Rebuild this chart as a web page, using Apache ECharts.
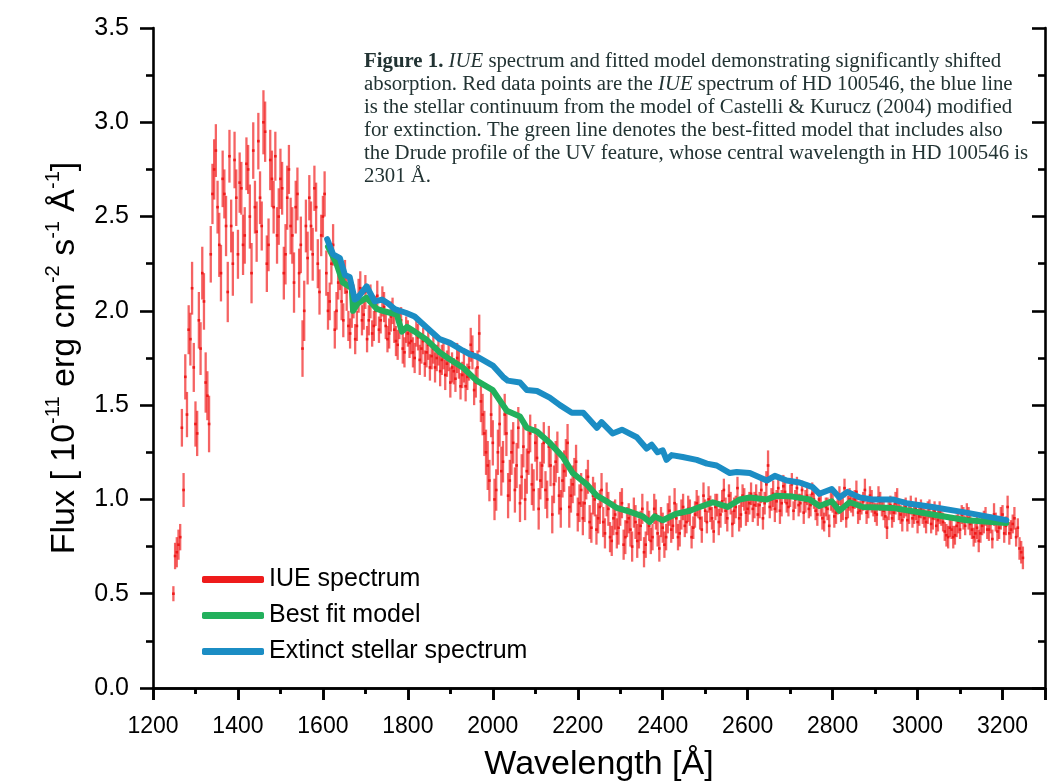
<!DOCTYPE html>
<html>
<head>
<meta charset="utf-8">
<script src="https://cdn.jsdelivr.net/npm/echarts@6/dist/echarts.min.js"></script>
<style>
  html, body { margin: 0; padding: 0; background: #fff; }
  #chart { width: 1048px; height: 784px; }
</style>
</head>
<body>
<div id="chart"></div>
<script>
// IUE spectrum of HD 100546: wavelength [A], flux, 1-sigma error (first half of the samples)
const iueWave = [
  1248, 1256, 1264, 1272, 1280, 1288, 1296, 1304, 1312, 1320,
  1328, 1336, 1344, 1352, 1360, 1368, 1376, 1384, 1392, 1400,
  1408, 1416, 1424, 1432, 1440, 1448, 1456, 1464, 1472, 1480,
  1488, 1496, 1504, 1512, 1520, 1528, 1536, 1544, 1552, 1560,
  1568, 1576, 1584, 1592, 1600, 1608, 1616, 1624, 1632, 1640,
  1648, 1656, 1664, 1672, 1680, 1688, 1696, 1704, 1712, 1720,
  1728, 1736, 1744, 1752, 1760, 1768, 1776, 1784, 1792, 1800,
  1808, 1816, 1824, 1832, 1840, 1848, 1856, 1864, 1872, 1880,
  1888, 1896, 1904, 1912, 1920, 1928, 1936, 1944, 1952, 1960,
  1968, 1976, 1984, 1992, 2000, 2008, 2016, 2024, 2032, 2040,
  2048, 2056, 2064, 2072, 2080, 2088, 2096, 2104, 2112, 2120,
  2128, 2136, 2144, 2152, 2160, 2168, 2176, 2184, 2192, 2200,
  2208, 2216, 2224, 2232, 2240, 2248, 2256, 2264, 2272, 2280,
  2288, 2296, 2304, 2312, 2320, 2328, 2336, 2344, 2352, 2360,
  2368, 2376, 2384, 2392, 2400, 2408, 2416, 2424, 2432, 2440,
  2448, 2456, 2464, 2472, 2480, 2488, 2496, 2504, 2512, 2520,
  2528, 2536, 2544, 2552, 2560, 2568, 2576, 2584, 2592, 2600,
  2608, 2616, 2624, 2632, 2640, 2648, 2656, 2664, 2672, 2680,
  2688, 2696, 2704, 2712, 2720, 2728, 2736, 2744, 2752, 2760,
  2768, 2776, 2784, 2792, 2800, 2808, 2816, 2824, 2832, 2840,
  2848, 2856, 2864, 2872, 2880, 2888, 2896, 2904, 2912, 2920,
  2928, 2936, 2944, 2952, 2960, 2968, 2976, 2984, 2992, 3000,
  3008, 3016, 3024, 3032, 3040, 3048, 3056, 3064, 3072, 3080,
  3088, 3096, 3104, 3112, 3120, 3128, 3136, 3144, 3152, 3160,
  3168, 3176, 3184, 3192, 3200, 3208, 3216, 3224, 3232, 3240,
  3248
];
const iueFlux = [
  0.50, 0.72, 0.80, 1.05, 1.45, 1.85, 1.70, 1.35, 1.80, 2.05,
  1.55, 2.30, 2.75, 2.55, 2.20, 2.62, 2.10, 2.45, 2.80, 2.30,
  2.65, 2.40, 2.75, 2.20, 2.55, 2.90, 2.45, 2.95, 2.35, 2.70,
  2.82, 2.50, 2.65, 2.30, 2.75, 2.40, 2.55, 2.20, 1.80, 2.45,
  2.60, 2.30, 2.55, 2.10, 2.50, 2.20, 2.05, 2.35, 2.00, 2.20,
  1.95, 2.10, 1.88, 2.05, 1.92, 2.12, 1.98, 1.85, 2.05, 1.92,
  2.08, 1.95, 2.02, 1.85, 1.97, 1.90, 1.82, 1.95, 1.78, 1.88,
  1.84, 1.75, 1.86, 1.80, 1.72, 1.82, 1.76, 1.70, 1.78, 1.74,
  1.66, 1.75, 1.70, 1.64, 1.72, 1.66, 1.60, 1.70, 1.78, 1.62,
  1.88, 1.45, 1.25, 1.10, 1.30, 1.05, 1.40, 1.20, 1.35, 1.10,
  1.30, 1.18, 0.98, 1.28, 1.15, 1.35, 1.05, 1.22, 1.10, 1.30,
  1.00, 1.18, 1.08, 1.25, 0.95, 1.15, 1.30, 1.02, 1.12, 0.92,
  1.05, 0.98, 1.12, 0.85, 1.00, 0.90, 1.05, 0.82, 0.95, 0.78,
  0.92, 0.85, 0.98, 0.80, 0.90, 0.75, 0.88, 0.82, 0.95, 0.76,
  0.86, 0.80, 0.92, 0.74, 0.85, 0.80, 0.94, 0.86, 0.90, 0.82,
  0.96, 0.88, 0.93, 0.85, 0.98, 0.90, 1.02, 0.88, 0.95, 0.83,
  0.97, 0.92, 1.05, 0.90, 0.98, 0.94, 1.06, 0.92, 1.00, 0.95,
  1.03, 0.97, 0.92, 1.05, 0.98, 1.18, 1.00, 0.95, 1.06, 0.98,
  1.04, 0.96, 1.08, 1.00, 0.97, 1.05, 0.99, 0.95, 1.03, 0.94,
  1.00, 0.90, 0.96, 0.86, 0.98, 0.93, 1.02, 0.95, 0.90, 1.00,
  0.96, 1.04, 0.94, 0.99, 0.93, 1.02, 0.96, 0.92, 0.99, 0.94,
  0.85, 0.97, 0.93, 1.00, 0.92, 0.95, 0.89, 0.97, 0.92, 0.88,
  0.95, 0.90, 0.93, 0.87, 0.94, 0.89, 0.91, 0.83, 0.80, 0.84,
  0.81, 0.88, 0.92, 0.86, 0.90, 0.84, 0.82, 0.78, 0.86, 0.91,
  0.84, 0.79, 0.88, 0.85, 0.92, 0.86, 0.82, 0.87, 0.80, 0.74,
  0.69
];
const iueErr = [
  0.04, 0.08, 0.07, 0.09, 0.12, 0.14, 0.13, 0.12, 0.14, 0.15,
  0.13, 0.15, 0.16, 0.14, 0.15, 0.13, 0.16, 0.14, 0.15, 0.13,
  0.14, 0.15, 0.13, 0.16, 0.14, 0.15, 0.13, 0.16, 0.14, 0.15,
  0.13, 0.15, 0.14, 0.16, 0.13, 0.15, 0.14, 0.13, 0.15, 0.14,
  0.12, 0.14, 0.13, 0.12, 0.11, 0.12, 0.10, 0.11, 0.10, 0.09,
  0.09, 0.10, 0.08, 0.09, 0.08, 0.09, 0.08, 0.07, 0.09, 0.08,
  0.08, 0.07, 0.08, 0.07, 0.08, 0.07, 0.08, 0.07, 0.08, 0.07,
  0.07, 0.08, 0.07, 0.08, 0.07, 0.08, 0.07, 0.08, 0.07, 0.08,
  0.08, 0.07, 0.08, 0.07, 0.08, 0.07, 0.08, 0.07, 0.09, 0.08,
  0.10, 0.11, 0.12, 0.11, 0.12, 0.11, 0.12, 0.11, 0.12, 0.11,
  0.11, 0.12, 0.10, 0.11, 0.12, 0.10, 0.11, 0.12, 0.10, 0.11,
  0.10, 0.11, 0.10, 0.11, 0.10, 0.11, 0.10, 0.09, 0.10, 0.09,
  0.09, 0.10, 0.09, 0.08, 0.09, 0.08, 0.09, 0.08, 0.09, 0.08,
  0.08, 0.09, 0.08, 0.09, 0.08, 0.08, 0.09, 0.08, 0.08, 0.07,
  0.08, 0.07, 0.08, 0.07, 0.08, 0.07, 0.08, 0.07, 0.08, 0.07,
  0.07, 0.06, 0.07, 0.06, 0.07, 0.06, 0.07, 0.06, 0.07, 0.06,
  0.06, 0.07, 0.06, 0.07, 0.06, 0.07, 0.06, 0.07, 0.06, 0.07,
  0.06, 0.07, 0.06, 0.07, 0.06, 0.08, 0.06, 0.07, 0.06, 0.07,
  0.06, 0.05, 0.06, 0.05, 0.06, 0.05, 0.06, 0.05, 0.06, 0.05,
  0.05, 0.06, 0.05, 0.06, 0.05, 0.06, 0.05, 0.06, 0.05, 0.06,
  0.05, 0.06, 0.05, 0.05, 0.06, 0.05, 0.05, 0.06, 0.05, 0.05,
  0.06, 0.05, 0.05, 0.06, 0.05, 0.05, 0.06, 0.05, 0.05, 0.06,
  0.05, 0.05, 0.06, 0.05, 0.05, 0.06, 0.05, 0.05, 0.06, 0.05,
  0.05, 0.06, 0.05, 0.05, 0.06, 0.05, 0.05, 0.06, 0.05, 0.05,
  0.06, 0.05, 0.05, 0.06, 0.05, 0.05, 0.06, 0.05, 0.05, 0.06,
  0.06
];

// second half of the samples, interleaved 4 A after the first
const iueWaveB = [
  1252, 1260, 1268, 1276, 1284, 1292, 1300, 1308, 1316, 1324,
  1332, 1340, 1348, 1356, 1364, 1372, 1380, 1388, 1396, 1404,
  1412, 1420, 1428, 1436, 1444, 1452, 1460, 1468, 1476, 1484,
  1492, 1500, 1508, 1516, 1524, 1532, 1540, 1548, 1556, 1564,
  1572, 1580, 1588, 1596, 1604, 1612, 1620, 1628, 1636, 1644,
  1652, 1660, 1668, 1676, 1684, 1692, 1700, 1708, 1716, 1724,
  1732, 1740, 1748, 1756, 1764, 1772, 1780, 1788, 1796, 1804,
  1812, 1820, 1828, 1836, 1844, 1852, 1860, 1868, 1876, 1884,
  1892, 1900, 1908, 1916, 1924, 1932, 1940, 1948, 1956, 1964,
  1972, 1980, 1988, 1996, 2004, 2012, 2020, 2028, 2036, 2044,
  2052, 2060, 2068, 2076, 2084, 2092, 2100, 2108, 2116, 2124,
  2132, 2140, 2148, 2156, 2164, 2172, 2180, 2188, 2196, 2204,
  2212, 2220, 2228, 2236, 2244, 2252, 2260, 2268, 2276, 2284,
  2292, 2300, 2308, 2316, 2324, 2332, 2340, 2348, 2356, 2364,
  2372, 2380, 2388, 2396, 2404, 2412, 2420, 2428, 2436, 2444,
  2452, 2460, 2468, 2476, 2484, 2492, 2500, 2508, 2516, 2524,
  2532, 2540, 2548, 2556, 2564, 2572, 2580, 2588, 2596, 2604,
  2612, 2620, 2628, 2636, 2644, 2652, 2660, 2668, 2676, 2684,
  2692, 2700, 2708, 2716, 2724, 2732, 2740, 2748, 2756, 2764,
  2772, 2780, 2788, 2796, 2804, 2812, 2820, 2828, 2836, 2844,
  2852, 2860, 2868, 2876, 2884, 2892, 2900, 2908, 2916, 2924,
  2932, 2940, 2948, 2956, 2964, 2972, 2980, 2988, 2996, 3004,
  3012, 3020, 3028, 3036, 3044, 3052, 3060, 3068, 3076, 3084,
  3092, 3100, 3108, 3116, 3124, 3132, 3140, 3148, 3156, 3164,
  3172, 3180, 3188, 3196, 3204, 3212, 3220, 3228, 3236, 3244
];
const iueFluxB = [
  0.70, 0.76, 1.38, 1.65, 1.90, 2.12, 1.40, 1.95, 2.20, 1.62,
  1.40, 2.62, 2.85, 2.35, 2.70, 2.45, 2.82, 2.25, 2.60, 2.68,
  2.35, 2.78, 2.50, 2.85, 2.42, 2.60, 3.00, 2.25, 2.80, 2.55,
  2.40, 2.70, 2.20, 2.60, 2.45, 2.15, 2.62, 2.35, 2.00, 2.28,
  2.45, 2.65, 2.25, 2.40, 2.62, 2.00, 2.25, 1.90, 2.15, 2.05,
  2.18, 1.92, 2.00, 1.85, 2.08, 1.95, 2.10, 1.95, 1.88, 2.00,
  1.90, 2.05, 1.92, 1.88, 2.00, 1.84, 1.92, 1.80, 1.90, 1.83,
  1.78, 1.88, 1.74, 1.84, 1.78, 1.70, 1.80, 1.75, 1.68, 1.76,
  1.72, 1.62, 1.68, 1.75, 1.60, 1.70, 1.65, 1.82, 1.58, 1.70,
  1.52, 1.35, 1.18, 1.45, 1.00, 1.25, 1.15, 1.45, 1.02, 1.25,
  1.05, 1.38, 1.12, 1.00, 1.25, 1.08, 1.30, 0.95, 1.18, 1.05,
  1.28, 0.92, 1.20, 1.02, 1.10, 1.22, 0.96, 1.08, 1.20, 0.98,
  0.90, 1.08, 0.88, 1.02, 0.84, 0.96, 0.88, 1.00, 0.80, 0.90,
  0.82, 0.95, 0.76, 0.88, 0.84, 0.93, 0.78, 0.86, 0.72, 0.90,
  0.78, 0.95, 0.82, 0.88, 0.76, 0.90, 0.84, 0.98, 0.80, 0.92,
  0.86, 0.95, 0.80, 0.92, 0.96, 0.84, 0.94, 1.00, 0.90, 0.96,
  0.88, 0.99, 0.94, 1.02, 0.87, 0.96, 0.90, 1.02, 0.93, 0.98,
  0.95, 1.02, 0.97, 0.90, 1.08, 0.96, 1.03, 0.99, 0.94, 1.07,
  0.98, 1.02, 0.94, 1.06, 0.98, 0.93, 1.02, 0.97, 1.00, 0.92,
  0.97, 0.88, 0.95, 0.99, 0.91, 0.97, 0.94, 1.06, 0.96, 0.98,
  1.00, 0.93, 0.97, 1.05, 0.95, 0.99, 0.93, 1.01, 0.96, 0.91,
  0.95, 0.90, 0.98, 0.94, 0.89, 0.96, 0.93, 0.90, 0.95, 0.91,
  0.92, 0.88, 0.95, 0.90, 0.86, 0.93, 0.88, 0.81, 0.85, 0.80,
  0.86, 0.84, 0.90, 0.93, 0.87, 0.80, 0.85, 0.82, 0.88, 0.84,
  0.87, 0.92, 0.83, 0.90, 0.82, 0.96, 0.84, 0.90, 0.85, 0.72
];
const iueErrB = [
  0.07, 0.08, 0.10, 0.12, 0.13, 0.14, 0.12, 0.15, 0.14, 0.16,
  0.15, 0.16, 0.14, 0.17, 0.15, 0.16, 0.14, 0.17, 0.15, 0.16,
  0.16, 0.14, 0.17, 0.15, 0.16, 0.14, 0.17, 0.15, 0.16, 0.14,
  0.15, 0.16, 0.14, 0.17, 0.15, 0.16, 0.14, 0.15, 0.16, 0.14,
  0.13, 0.12, 0.13, 0.11, 0.12, 0.10, 0.11, 0.10, 0.09, 0.10,
  0.09, 0.08, 0.09, 0.08, 0.09, 0.08, 0.09, 0.08, 0.07, 0.08,
  0.07, 0.08, 0.07, 0.08, 0.07, 0.08, 0.07, 0.08, 0.07, 0.08,
  0.08, 0.07, 0.08, 0.07, 0.08, 0.07, 0.08, 0.07, 0.08, 0.07,
  0.07, 0.08, 0.07, 0.08, 0.07, 0.08, 0.07, 0.09, 0.08, 0.09,
  0.11, 0.12, 0.13, 0.12, 0.11, 0.12, 0.13, 0.11, 0.12, 0.12,
  0.12, 0.11, 0.12, 0.11, 0.12, 0.11, 0.10, 0.11, 0.12, 0.10,
  0.11, 0.10, 0.11, 0.10, 0.09, 0.10, 0.11, 0.10, 0.09, 0.10,
  0.09, 0.08, 0.09, 0.10, 0.08, 0.09, 0.08, 0.09, 0.08, 0.09,
  0.08, 0.09, 0.08, 0.08, 0.09, 0.08, 0.09, 0.08, 0.08, 0.09,
  0.07, 0.08, 0.07, 0.08, 0.07, 0.08, 0.07, 0.08, 0.07, 0.08,
  0.06, 0.07, 0.06, 0.07, 0.06, 0.07, 0.06, 0.07, 0.06, 0.07,
  0.07, 0.06, 0.07, 0.06, 0.07, 0.06, 0.07, 0.06, 0.07, 0.06,
  0.07, 0.06, 0.07, 0.06, 0.07, 0.06, 0.07, 0.06, 0.07, 0.06,
  0.05, 0.06, 0.05, 0.06, 0.05, 0.06, 0.05, 0.06, 0.05, 0.06,
  0.06, 0.05, 0.06, 0.05, 0.06, 0.05, 0.06, 0.05, 0.06, 0.05,
  0.05, 0.06, 0.05, 0.06, 0.05, 0.06, 0.05, 0.06, 0.05, 0.06,
  0.06, 0.05, 0.06, 0.05, 0.06, 0.05, 0.06, 0.05, 0.06, 0.05,
  0.05, 0.06, 0.05, 0.06, 0.05, 0.06, 0.05, 0.06, 0.05, 0.06,
  0.06, 0.05, 0.06, 0.05, 0.06, 0.05, 0.06, 0.05, 0.06, 0.05,
  0.05, 0.06, 0.05, 0.06, 0.05, 0.06, 0.05, 0.06, 0.05, 0.06
];

// best fit model (green)
const fitWave = [
  1612, 1632, 1647, 1668, 1671, 1682, 1703, 1727, 1741, 1758,
  1774, 1786, 1798, 1816, 1845, 1875, 1894, 1929, 1962, 2000,
  2033, 2064, 2080, 2104, 2134, 2165, 2188, 2221, 2245, 2268,
  2292, 2322, 2353, 2369, 2381, 2400, 2433, 2464, 2487, 2518,
  2553, 2581, 2605, 2645, 2668, 2706, 2746, 2769, 2798, 2816,
  2840, 2871, 2941, 3035, 3115, 3209
];
const fitFlux = [
  2.34, 2.25, 2.15, 2.12, 2.00, 2.04, 2.07, 2.01, 2.00, 1.99,
  1.98, 1.89, 1.915, 1.89, 1.845, 1.78, 1.75, 1.70, 1.63, 1.58,
  1.47, 1.44, 1.38, 1.36, 1.30, 1.225, 1.14, 1.08, 1.02, 0.99,
  0.955, 0.935, 0.91, 0.88, 0.91, 0.89, 0.925, 0.94, 0.96, 0.985,
  0.96, 1.00, 1.01, 1.00, 1.02, 1.015, 1.00, 0.965, 0.99, 0.94,
  0.985, 0.96, 0.955, 0.92, 0.89, 0.875
];

// extinct stellar spectrum (blue)
const stellarWave = [
  1610, 1624, 1640, 1652, 1663, 1675, 1682, 1703, 1722, 1739,
  1753, 1769, 1781, 1795, 1816, 1845, 1875, 1899, 1929, 1946,
  1965, 2000, 2024, 2035, 2064, 2080, 2104, 2134, 2158, 2186,
  2213, 2245, 2256, 2282, 2304, 2339, 2362, 2374, 2388, 2400,
  2409, 2421, 2447, 2480, 2504, 2527, 2558, 2574, 2605, 2645,
  2664, 2692, 2722, 2753, 2769, 2798, 2816, 2835, 2864, 2894,
  2941, 2974, 3035, 3115, 3209
];
const stellarFlux = [
  2.38, 2.30, 2.28, 2.19, 2.18, 2.06, 2.07, 2.13, 2.05, 2.06,
  2.04, 2.01, 2.00, 1.99, 1.97, 1.91, 1.85, 1.83, 1.79, 1.77,
  1.755, 1.71, 1.65, 1.63, 1.62, 1.58, 1.575, 1.54, 1.50, 1.46,
  1.46, 1.38, 1.41, 1.35, 1.37, 1.33, 1.27, 1.29, 1.25, 1.26,
  1.21, 1.235, 1.225, 1.21, 1.19, 1.18, 1.14, 1.145, 1.14, 1.10,
  1.125, 1.10, 1.09, 1.065, 1.03, 1.055, 1.01, 1.04, 1.01, 1.00,
  1.00, 0.98, 0.96, 0.93, 0.89
];

const xTicks = [1200, 3300, 200];
const yTicks = [0, 3.5, 0.5];

const RED = "#ee1b1b";
const GREEN = "#22b05c";
const BLUE = "#1b8dc4";

const chart = echarts.init(document.getElementById("chart"));

const iueData = iueWave
  .map((w, i) => [w, iueFlux[i], iueErr[i]])
  .concat(iueWaveB.map((w, i) => [w, iueFluxB[i], iueErrB[i]]));
const fitData = fitWave.map((w, i) => [w, fitFlux[i]]);
const stellarData = stellarWave.map((w, i) => [w, stellarFlux[i]]);

// error bar + small dot for every IUE point
function renderErrorBar(params, api) {
  const x = api.value(0);
  const y = api.value(1);
  const e = api.value(2);
  const hi = api.coord([x, y + e]);
  const lo = api.coord([x, y - e]);
  const c = api.coord([x, y]);
  return {
    type: "group",
    children: [
      {
        type: "line",
        shape: { x1: hi[0], y1: hi[1], x2: lo[0], y2: lo[1] },
        style: { stroke: "rgba(240, 25, 25, 0.68)", lineWidth: 2.3 },
      },
      {
        type: "rect",
        shape: { x: c[0] - 1.3, y: c[1] - 1.3, width: 2.6, height: 2.6 },
        style: { fill: RED },
      },
    ],
  };
}

const axisLine = { show: true, lineStyle: { color: "#000", width: 2.6 } };

const option = {
  backgroundColor: "#fff",
  animation: false,
  grid: { left: 153, right: 3, top: 28, bottom: 96, outerBoundsMode: "none", containLabel: false },
  legend: {
    orient: "vertical",
    left: 202,
    top: 567,
    padding: 0,
    itemWidth: 62,
    itemHeight: 7,
    itemGap: 11,
    icon: "roundRect",
    selectedMode: false,
    textStyle: { fontFamily: "Liberation Sans", fontSize: 25, color: "#000" },
    data: ["IUE spectrum", "Best fit model", "Extinct stellar spectrum"],
  },
  xAxis: [
    {
      type: "value",
      position: "bottom",
      min: xTicks[0],
      max: xTicks[1],
      interval: xTicks[2],
      axisLine: axisLine,
      axisTick: { show: true, length: 12, lineStyle: { color: "#000", width: 2.6 } },
      minorTick: { show: true, splitNumber: 2, length: 6, lineStyle: { color: "#000", width: 2.6 } },
      splitLine: { show: false },
      axisLabel: {
        margin: 27,
        showMaxLabel: false,
        fontFamily: "Liberation Sans",
        fontSize: 23,
        color: "#000",
        formatter: (v) => String(v),
      },
      name: "Wavelength [Å]",
      nameLocation: "middle",
      nameGap: 60,
      nameTextStyle: { fontFamily: "Liberation Sans", fontSize: 34, color: "#000" },
    },
    {
      type: "value",
      position: "top",
      min: xTicks[0],
      max: xTicks[1],
      interval: xTicks[2],
      axisLine: axisLine,
      axisTick: { show: true, inside: true, length: 12, lineStyle: { color: "#000", width: 2.6 } },
      minorTick: { show: true, splitNumber: 2, length: 6, lineStyle: { color: "#000", width: 2.6 } },
      splitLine: { show: false },
      axisLabel: { show: false },
    },
  ],
  yAxis: [
    {
      type: "value",
      position: "left",
      min: yTicks[0],
      max: yTicks[1],
      interval: yTicks[2],
      axisLine: axisLine,
      axisTick: { show: true, length: 13, lineStyle: { color: "#000", width: 2.6 } },
      minorTick: { show: true, splitNumber: 2, length: 7, lineStyle: { color: "#000", width: 2.6 } },
      splitLine: { show: false },
      axisLabel: {
        margin: 24,
        fontFamily: "Liberation Sans",
        fontSize: 25,
        color: "#000",
        formatter: (v) => v.toFixed(1),
      },
      name: "{n|Flux [ 10}{s|-11}{n| erg cm}{s|-2}{n| s}{s|-1}{n| Å}{s|-1}{n|]}",
      nameLocation: "middle",
      nameGap: 66,
      nameTextStyle: {
        color: "#000",
        rich: {
          n: { fontFamily: "Liberation Sans", fontSize: 34, lineHeight: 44, color: "#000" },
          s: { fontFamily: "Liberation Sans", fontSize: 20, lineHeight: 44, verticalAlign: "top", color: "#000" },
        },
      },
    },
    {
      type: "value",
      position: "right",
      min: yTicks[0],
      max: yTicks[1],
      interval: yTicks[2],
      axisLine: axisLine,
      axisTick: { show: true, inside: true, length: 13, lineStyle: { color: "#000", width: 2.6 } },
      minorTick: { show: true, splitNumber: 2, length: 7, lineStyle: { color: "#000", width: 2.6 } },
      splitLine: { show: false },
      axisLabel: { show: false },
    },
  ],
  series: [
    {
      name: "IUE spectrum",
      type: "custom",
      xAxisIndex: 0,
      yAxisIndex: 0,
      clip: true,
      itemStyle: { color: RED },
      renderItem: renderErrorBar,
      encode: { x: 0, y: 1 },
      data: iueData,
    },
    {
      name: "Best fit model",
      type: "line",
      xAxisIndex: 0,
      yAxisIndex: 0,
      color: GREEN,
      showSymbol: false,
      lineStyle: { width: 6, color: GREEN, join: "round", cap: "round" },
      data: fitData,
    },
    {
      name: "Extinct stellar spectrum",
      type: "line",
      xAxisIndex: 0,
      yAxisIndex: 0,
      color: BLUE,
      showSymbol: false,
      lineStyle: { width: 6, color: BLUE, join: "round", cap: "round" },
      data: stellarData,
    },
  ],
  graphic: [
    {
      type: "text",
      left: 364,
      top: 50,
      style: {
        text:
          "{b|Figure 1.} {i|IUE} spectrum and fitted model demonstrating significantly shifted\n" +
          "absorption. Red data points are the {i|IUE} spectrum of HD 100546, the blue line\n" +
          "is the stellar continuum from the model of Castelli & Kurucz (2004) modified\n" +
          "for extinction. The green line denotes the best-fitted model that includes also\n" +
          "the Drude profile of the UV feature, whose central wavelength in HD 100546 is\n" +
          "2301 Å.",
        fontFamily: "Liberation Serif",
        fontSize: 20.8,
        lineHeight: 23,
        fill: "#223333",
        rich: {
          b: { fontFamily: "Liberation Serif", fontSize: 20.8, fontWeight: "bold", lineHeight: 23, fill: "#223333" },
          i: { fontFamily: "Liberation Serif", fontSize: 20.8, fontStyle: "italic", lineHeight: 23, fill: "#223333" },
        },
      },
    },
  ],
};

chart.setOption(option);
window.addEventListener("resize", () => chart.resize());
</script>
</body>
</html>
